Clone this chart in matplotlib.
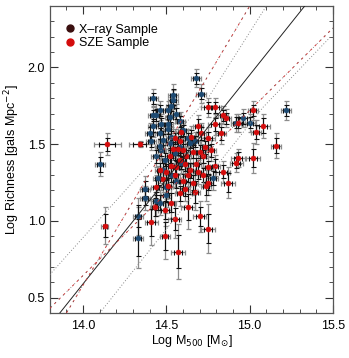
import matplotlib
matplotlib.use("Agg")
import matplotlib.pyplot as plt
from matplotlib.lines import Line2D
from matplotlib.ticker import MultipleLocator, FormatStrFormatter

plt.rcParams['font.family'] = ['Liberation Sans', 'DejaVu Sans']

# ---------------- data ----------------
xray_logm = [14.10, 14.42, 14.68, 14.71, 15.22, 14.96, 14.92, 15.00, 14.33, 14.33,
             14.37, 14.37, 14.44, 14.46, 14.54, 14.46, 14.42, 14.44, 14.51, 14.53,
             14.54, 14.52, 14.47, 14.51, 14.42, 14.40, 14.46, 14.51, 14.53, 14.41,
             14.46, 14.52, 14.47, 14.78, 14.63, 14.64, 14.67, 14.49, 14.55, 14.48,
             14.53, 14.56, 14.59, 14.45, 14.50, 14.58, 14.56, 14.44, 14.58, 14.50,
             14.60, 14.48]
xray_logr = [1.37, 1.80, 1.93, 1.83, 1.72, 1.67, 1.64, 1.64, 0.89, 1.03,
             1.21, 1.15, 1.13, 1.12, 1.82, 1.72, 1.69, 1.69, 1.72, 1.75,
             1.79, 1.68, 1.63, 1.63, 1.62, 1.57, 1.57, 1.60, 1.55, 1.52,
             1.49, 1.51, 1.46, 1.28, 1.54, 1.51, 1.52, 1.40, 1.44, 1.33,
             1.30, 1.26, 1.38, 1.28, 1.22, 1.65, 1.70, 1.42, 1.48, 1.17,
             1.59, 1.53]
xray_xerr = [0.03, 0.03, 0.03, 0.03, 0.03, 0.04, 0.03, 0.03, 0.03, 0.03,
             0.03, 0.03, 0.03, 0.03, 0.03, 0.03, 0.03, 0.03, 0.03, 0.03,
             0.03, 0.03, 0.03, 0.03, 0.03, 0.03, 0.03, 0.03, 0.03, 0.03,
             0.03, 0.03, 0.03, 0.03, 0.03, 0.03, 0.03, 0.03, 0.03, 0.03,
             0.03, 0.03, 0.03, 0.03, 0.03, 0.03, 0.03, 0.03, 0.03, 0.03,
             0.03, 0.03]
xray_yerr = [0.08, 0.06, 0.06, 0.06, 0.06, 0.06, 0.06, 0.06, 0.20, 0.12,
             0.08, 0.08, 0.10, 0.08, 0.07, 0.06, 0.06, 0.07, 0.06, 0.06,
             0.06, 0.06, 0.07, 0.06, 0.07, 0.07, 0.06, 0.06, 0.06, 0.06,
             0.07, 0.06, 0.06, 0.08, 0.06, 0.06, 0.06, 0.07, 0.07, 0.08,
             0.08, 0.08, 0.07, 0.08, 0.08, 0.06, 0.06, 0.07, 0.06, 0.08,
             0.06, 0.06]

sze_logm = [14.145, 14.34, 14.13, 14.41, 14.49, 14.49, 14.43, 14.44, 14.55, 14.57,
            14.63, 14.70, 14.75, 14.67, 14.74, 14.75, 14.87, 14.75, 14.79, 15.02,
            14.84, 14.86, 14.69, 14.79, 14.93, 15.08, 15.04, 14.83, 14.75, 15.16,
            14.93, 14.92, 15.02, 14.84, 14.75, 14.73, 14.46, 14.59, 14.58, 14.54,
            14.57, 14.71, 14.65, 14.70, 14.66, 14.72, 14.79, 14.61, 14.64, 14.60,
            14.48, 14.53, 14.58, 14.55, 14.62, 14.68, 14.51, 14.58, 14.52, 14.56,
            14.63, 14.69, 14.72, 14.50, 14.66, 14.60, 14.77, 14.55, 14.53, 14.61]
sze_logr = [1.50, 1.50, 0.97, 0.99, 0.90, 1.07, 1.09, 1.22, 1.01, 0.80,
            1.09, 1.03, 0.95, 1.19, 1.23, 1.25, 1.25, 1.74, 1.74, 1.72,
            1.69, 1.67, 1.62, 1.63, 1.64, 1.62, 1.58, 1.57, 1.54, 1.49,
            1.41, 1.38, 1.41, 1.32, 1.35, 1.48, 1.33, 1.58, 1.52, 1.47,
            1.47, 1.57, 1.55, 1.45, 1.45, 1.30, 1.36, 1.37, 1.33, 1.26,
            1.27, 1.36, 1.40, 1.30, 1.42, 1.37, 1.23, 1.18, 1.42, 1.35,
            1.30, 1.32, 1.42, 1.32, 1.25, 1.46, 1.46, 1.54, 1.12, 1.21]
sze_xerr = [0.08, 0.065, 0.02, 0.04, 0.03, 0.04, 0.03, 0.03, 0.04, 0.04,
            0.04, 0.04, 0.04, 0.03, 0.03, 0.03, 0.04, 0.04, 0.04, 0.03,
            0.03, 0.03, 0.03, 0.04, 0.04, 0.04, 0.03, 0.03, 0.04, 0.03,
            0.04, 0.04, 0.04, 0.04, 0.03, 0.03, 0.03, 0.03, 0.03, 0.03,
            0.03, 0.03, 0.03, 0.03, 0.03, 0.03, 0.03, 0.03, 0.03, 0.03,
            0.03, 0.03, 0.03, 0.03, 0.03, 0.03, 0.03, 0.03, 0.03, 0.03,
            0.03, 0.03, 0.03, 0.03, 0.03, 0.03, 0.03, 0.03, 0.03, 0.03]
sze_yerr = [0.07, 0.02, 0.12, 0.15, 0.15, 0.10, 0.10, 0.08, 0.12, 0.18,
            0.14, 0.10, 0.16, 0.12, 0.10, 0.08, 0.10, 0.06, 0.06, 0.06,
            0.06, 0.06, 0.07, 0.07, 0.06, 0.08, 0.08, 0.07, 0.07, 0.08,
            0.06, 0.06, 0.10, 0.07, 0.07, 0.07, 0.08, 0.06, 0.06, 0.07,
            0.07, 0.07, 0.07, 0.07, 0.07, 0.08, 0.07, 0.07, 0.08, 0.08,
            0.08, 0.08, 0.07, 0.08, 0.07, 0.07, 0.08, 0.08, 0.07, 0.07,
            0.08, 0.08, 0.07, 0.08, 0.08, 0.07, 0.07, 0.06, 0.10, 0.08]

# relation lines
fit_x = [13.86, 15.33]
fit_y = [0.40, 2.40]
band_up_x = [13.80, 14.75, 15.10]
band_up_y = [0.65, 1.80, 2.40]
band_lo_x = [14.10, 15.08, 15.49]
band_lo_y = [0.40, 1.74, 2.205]
sze_fit_x = [13.80, 15.50]
sze_fit_y = [0.43, 2.257]
sze_steep_x = [13.90, 15.00]
sze_steep_y = [0.40, 2.40]

legend_labels = ["X\u2013ray Sample", "SZE Sample"]

# ---------------- figure ----------------
fig = plt.figure(figsize=(3.49, 3.58), dpi=100)
ax = fig.add_axes([0.1427, 0.1257, 0.8113, 0.8573])

blue = '#1d4a72'
red = '#d40c0c'

def draw(xs, ys, xe, ye, color):
    ax.errorbar(xs, ys, xerr=xe, yerr=ye, fmt='none', ecolor='#8c8c8c',
                elinewidth=0.9, capsize=1.8, capthick=0.9, zorder=2)
    ax.errorbar(xs, ys, xerr=[v * 0.6 for v in xe], yerr=[v * 0.6 for v in ye],
                fmt='none', ecolor='#111111', elinewidth=0.8, capsize=1.8,
                capthick=0.8, zorder=3)
    ax.plot(xs, ys, 'o', ms=3.6, mfc=color, mec=color, mew=0.4, zorder=4)

draw(xray_logm, xray_logr, xray_xerr, xray_yerr, blue)
draw(sze_logm, sze_logr, sze_xerr, sze_yerr, red)

ax.plot(fit_x, fit_y, color='#222222', lw=0.7, zorder=5)
ax.plot(band_up_x, band_up_y, color='#888888', lw=0.7, ls=(0, (1, 2)), zorder=5)
ax.plot(band_lo_x, band_lo_y, color='#888888', lw=0.7, ls=(0, (1, 2)), zorder=5)
for lx, ly in [(sze_fit_x, sze_fit_y), (sze_steep_x, sze_steep_y)]:
    ax.plot(lx, ly, color='#c83a3a', lw=0.7, ls=(0, (2.5, 4)), zorder=5)
    ax.plot(lx, ly, color='#555555', lw=0.6, ls=(3.8, (0.8, 5.7)), zorder=5)

ax.set_xlim(13.8, 15.5)
ax.set_ylim(0.4, 2.4)
ax.xaxis.set_major_locator(MultipleLocator(0.5))
ax.xaxis.set_minor_locator(MultipleLocator(0.1))
ax.yaxis.set_major_locator(MultipleLocator(0.5))
ax.yaxis.set_minor_locator(MultipleLocator(0.1))
ax.tick_params(which='both', direction='in', top=True, right=True,
               colors='#333333', labelcolor='black', labelsize=9)
ax.tick_params(which='major', length=6, width=0.8)
ax.tick_params(which='minor', length=3, width=0.6)
ax.tick_params(axis='x', which='major', pad=5)
ax.xaxis.set_major_formatter(FormatStrFormatter('%.1f'))
ax.yaxis.set_major_formatter(FormatStrFormatter('%.1f'))
for s in ax.spines.values():
    s.set_color('#555555')
    s.set_linewidth(0.9)

ax.set_xlabel(r'Log M$_{500}$ [M$_{\odot}$]', fontsize=9, labelpad=1)
ax.set_ylabel(r'Log Richness [gals Mpc$^{-2}$]', fontsize=9, labelpad=4)

handles = [Line2D([], [], ls='none', marker='o', ms=5, mfc='#3a0f0f', mec='#3a0f0f'),
           Line2D([], [], ls='none', marker='o', ms=5, mfc=red, mec=red)]
ax.legend(handles, legend_labels, loc='upper left', bbox_to_anchor=(0.036, 0.955),
          frameon=False, fontsize=9, handletextpad=0.2, borderaxespad=0.0,
          labelspacing=0.1, handlelength=1.0, borderpad=0.3)

fig.savefig('out.png', dpi=100)
